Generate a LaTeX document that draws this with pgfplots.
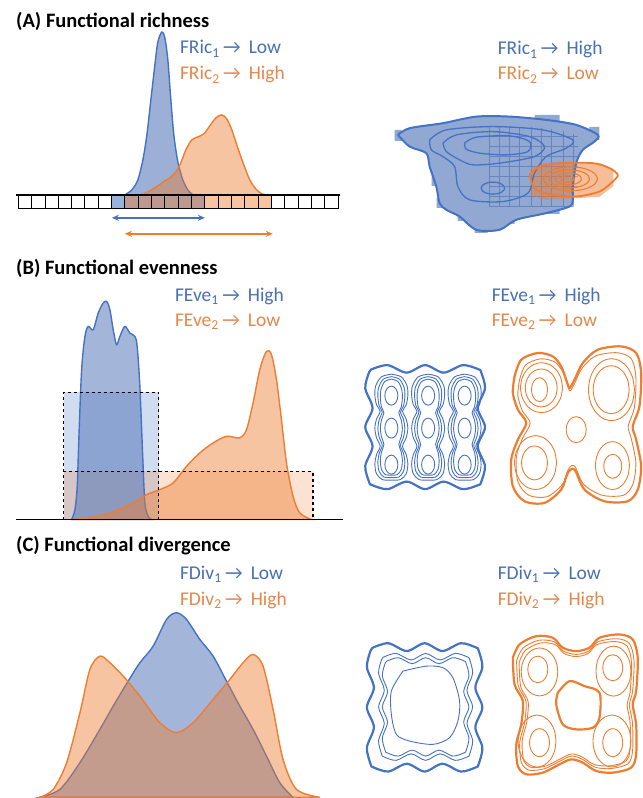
\documentclass[border=0pt]{standalone}
\usepackage{pgfplots}
\pgfplotsset{compat=1.18}
\usepackage{pgfplotstable}
\usepackage{fontspec}
\setmainfont{Carlito}
\usetikzlibrary{arrows.meta}
\definecolor{cb}{RGB}{68,114,196}
\definecolor{cbf}{RGB}{72,110,182}
\definecolor{cbsolid}{RGB}{145,168,211}
\definecolor{co}{RGB}{237,125,49}
\definecolor{cbt}{RGB}{72,112,180}
\definecolor{cot}{RGB}{228,135,75}

% unit circle
\pgfplotstableread{
x y
1 0
0.924 0.383
0.707 0.707
0.383 0.924
0 1
-0.383 0.924
-0.707 0.707
-0.924 0.383
-1 0
-0.924 -0.383
-0.707 -0.707
-0.383 -0.924
0 -1
0.383 -0.924
0.707 -0.707
0.924 -0.383
1 0
}\circtab

% wavy square (unit)
\pgfplotstableread{
x y
-0.95 -1.0
-0.67 -1.07
-0.33 -0.94
0 -1.07
0.33 -0.94
0.67 -1.07
0.95 -1.0
1.0 -0.95
1.07 -0.67
0.94 -0.33
1.07 0
0.94 0.33
1.07 0.67
1.0 0.95
0.95 1.0
0.67 1.07
0.33 0.94
0 1.07
-0.33 0.94
-0.67 1.07
-0.95 1.0
-1.0 0.95
-1.07 0.67
-0.94 0.33
-1.07 0
-0.94 -0.33
-1.07 -0.67
-1.0 -0.95
-0.95 -1.0
}\wsqtab

% three-lobed chain (unit)
\pgfplotstableread{
x y
0 -1
0.6 -0.95
0.95 -0.78
1 -0.6
0.9 -0.42
0.68 -0.3
0.9 -0.15
1 0.02
0.9 0.2
0.68 0.36
0.9 0.52
1 0.7
0.9 0.88
0.55 0.99
0 1
-0.55 0.99
-0.9 0.88
-1 0.7
-0.9 0.52
-0.68 0.36
-0.9 0.2
-1 0.02
-0.9 -0.15
-0.68 -0.3
-0.9 -0.42
-1 -0.6
-0.95 -0.78
-0.6 -0.95
0 -1
}\chaintab

% panel A strip cell borders
\pgfplotstableread{
x y
18.33 195
18.33 209
18.33 nan
31.67 195
31.67 209
31.67 nan
45.00 195
45.00 209
45.00 nan
58.33 195
58.33 209
58.33 nan
71.67 195
71.67 209
71.67 nan
85.00 195
85.00 209
85.00 nan
98.33 195
98.33 209
98.33 nan
111.67 195
111.67 209
111.67 nan
125.00 195
125.00 209
125.00 nan
138.33 195
138.33 209
138.33 nan
151.67 195
151.67 209
151.67 nan
165.00 195
165.00 209
165.00 nan
178.33 195
178.33 209
178.33 nan
191.67 195
191.67 209
191.67 nan
205.00 195
205.00 209
205.00 nan
218.33 195
218.33 209
218.33 nan
231.67 195
231.67 209
231.67 nan
245.00 195
245.00 209
245.00 nan
258.33 195
258.33 209
258.33 nan
271.67 195
271.67 209
271.67 nan
285.00 195
285.00 209
285.00 nan
298.33 195
298.33 209
298.33 nan
311.67 195
311.67 209
311.67 nan
325.00 195
325.00 209
325.00 nan
338.33 195
338.33 209
}\gridA

% panel A right: faint trait grid
\pgfplotstableread{
x y
490 128
490 207
490 nan
500 126
500 207
500 nan
510 126
510 207
510 nan
520 127
520 207
520 nan
531.7 127
531.7 207
531.7 nan
541.7 128
541.7 207
541.7 nan
551.7 129
551.7 207
551.7 nan
563.3 131
563.3 207
563.3 nan
573.3 134
573.3 207
573.3 nan
490 136.7
578 136.7
578 nan
490 146.7
578 146.7
578 nan
490 156.7
578 156.7
578 nan
490 166.7
578 166.7
578 nan
490 176.7
578 176.7
578 nan
490 186.7
578 186.7
578 nan
490 196.7
578 196.7
578 nan
490 206.7
573 206.7
}\gridB

% panel A right: pixel squares along the edge of the blue region
\pgfplotstableread{
x y
395 130
395 141
402 141
402 130
395 130
395 nan
430 150
430 160
437 160
437 150
430 150
430 nan
432 175
432 186
440 186
440 175
432 175
432 nan
437 198
437 208
445 208
445 198
437 198
437 nan
458 212
458 221
466 221
466 212
458 212
458 nan
475 224
475 233
488 233
488 224
475 224
475 nan
505 215
505 224
515 224
515 215
505 215
505 nan
548 205
548 214
560 214
560 205
548 205
548 nan
590 127
590 140
600 140
600 127
590 127
590 nan
535 115
535 121
560 121
560 115
535 115
}\pixA

% panel B orange outer contour
\pgfplotstableread{
x y
515 376.7
521.7 360
538.3 353.3
553.3 356.7
561.7 366.7
566.7 380
570 388.3
575 380
583.3 363.3
598.3 350
621.7 346.7
636.7 353.3
641.7 373.3
640 406.7
633.3 426.7
636.7 440
641.7 466.7
638.3 490
628.3 501.7
605 501.7
585 490
575 470
568.3 473.3
561.7 490
545 503.3
525 501.7
513.3 486.7
511.7 460
518.3 440
526.7 423.3
518.3 410
513.3 393.3
515 376.7
}\orB

% panel C orange outer contour
\pgfplotstableread{
x y
513.3 658.3
520 645
536.7 636.7
553.3 638.3
563.3 648.3
576.7 651.7
590 648.3
600 638.3
620 635
633.3 640
638.3 658.3
636.7 691.7
633.3 705
636.7 725
636.7 755
631.7 768.3
613.3 773.3
596.7 771.7
583.3 763.3
571.7 760
560 765
543.3 773.3
526.7 775
518.3 766.7
516.7 745
521.7 725
523.3 701.7
515 685
513.3 658.3
}\orC

% panel C blue innermost contour
\pgfplotstableread{
x y
403.3 671.7
426.7 666.7
443.3 668.3
453.3 678.3
460 701.7
458.3 721.7
450 738.3
433.3 745
410 741.7
396.7 735
391.7 715
391.7 691.7
403.3 671.7
}\blC

\newcommand{\shp}[6]{\addplot[#1] table[x expr={#3+#5*\thisrow{x}}, y expr={#4+#6*\thisrow{y}}] {#2};}
\newcommand{\shq}[5]{\addplot[#1] table[x expr={#3+#5*(\thisrow{x}-#3)}, y expr={#4+#5*(\thisrow{y}-#4)}] {#2};}
\newcommand{\ttl}[3]{\node[anchor=base west, inner sep=0, font=\fontsize{20.5bp}{24bp}\selectfont\bfseries] at (axis cs:#1,#2) {#3};}
\newcommand{\lab}[6]{\node[anchor=base west, inner sep=0, text=#6, font=\fontsize{19.5bp}{23bp}\selectfont] at (axis cs:#1,#2) {#3\textsubscript{#4}\hspace{3.5bp}→\hspace{8bp}#5};}

\begin{document}
\begin{tikzpicture}
\begin{axis}[width=643bp, height=798bp, scale only axis,
  xmin=0, xmax=643, ymin=0, ymax=798, y dir=reverse,
  axis lines=none, clip=false, unbounded coords=jump]

% invisible frame so that the page is the full 643 x 798 area
\addplot[draw=none, forget plot] coordinates {(0,0)(643,0)(643,798)(0,798)};

% ================= Panel A =================
\ttl{16}{28}{(A) Functional richness}
\lab{180}{54}{FRic}{1}{Low}{cbt}
\lab{180}{80}{FRic}{2}{High}{cot}
\lab{498}{55}{FRic}{1}{High}{cbt}
\lab{498}{80}{FRic}{2}{Low}{cot}

% cells
\addplot[fill=cb, fill opacity=0.55, draw=none] coordinates {(111.67,195)(205,195)(205,209)(111.67,209)} -- cycle;
\addplot[fill=co, fill opacity=0.45, draw=none] coordinates {(125,195)(271.67,195)(271.67,209)(125,209)} -- cycle;
% densities
\addplot[smooth, draw=cb, line width=1.4bp, fill=cbf, fill opacity=0.55] coordinates {
(125,195)(132,190)(138,180)(143,160)(147,135)(151,100)(155,65)(158,42)(162,32)(165,38)(168,60)(171,100)(174,135)(178,162)(183,180)(188,190)(193,195)} -- cycle;
\addplot[smooth, draw=co, line width=1.4bp, fill=co, fill opacity=0.45] coordinates {
(142,195)(150,191)(158,186)(165,181)(170,178)(176,172)(181,163)(186,150)(192,140)(198,137)(204,134)(210,126)(216,118)(222,115)(227,119)(232,130)(238,148)(244,165)(250,180)(256,189)(262,194)(267,195)} -- cycle;
\addplot[black, line width=0.9bp] table {\gridA};
\addplot[black, line width=0.9bp] coordinates {(18.33,209)(338.33,209)};
\addplot[black, line width=1.6bp] coordinates {(16,195)(340,195)};
% range arrows
\addplot[cb, line width=1.5bp, {Stealth[length=7bp,width=6bp]}-{Stealth[length=7bp,width=6bp]}] coordinates {(112,218)(205,218)};
\addplot[co, line width=1.5bp, {Stealth[length=7bp,width=6bp]}-{Stealth[length=7bp,width=6bp]}] coordinates {(125,234)(273,234)};

% right: 2D
\addplot[fill=cbsolid, draw=none] table {\pixA};
\addplot[smooth, fill=cbsolid, draw=none] coordinates {
(398.3,135)(410,128.3)(443.3,123.3)(476.7,116.7)(510,116.7)(546.7,120)(576.7,125)(598.3,135)(595,141.7)(583.3,150)(576.7,163.3)(573.3,186.7)(573.3,200)(570,206.7)(546.7,213.3)(516.7,220)(500,230)(476.7,230)(460,216.7)(446.7,210)(440,203.3)(436.7,186.7)(430,166.7)(426.7,153.3)(410,146.7)(398.3,135)};
\addplot[cb!80!black, line width=0.5bp, opacity=0.45] table {\gridB};
\addplot[fill=co, fill opacity=0.5, draw=none] coordinates {(531,168)(545,163)(600,163)(614,169)(614,186)(600,197)(545,200)(531,195)} -- cycle;
\addplot[smooth, draw=cb, line width=2bp] coordinates {
(398.3,135)(410,128.3)(443.3,123.3)(476.7,116.7)(510,116.7)(546.7,120)(576.7,125)(598.3,135)(595,141.7)(583.3,150)(576.7,163.3)(573.3,186.7)(573.3,200)(570,206.7)(546.7,213.3)(516.7,220)(500,230)(476.7,230)(460,216.7)(446.7,210)(440,203.3)(436.7,186.7)(430,166.7)(426.7,153.3)(410,146.7)(398.3,135)};
\addplot[smooth, draw=cb, line width=1.3bp] coordinates {
(430,140)(446.7,130)(493.3,126.7)(543.3,130)(573.3,140)(566.7,148.3)(546.7,156.7)(535,173.3)(528.3,193.3)(503.3,201.7)(470,200)(458.3,186.7)(455,166.7)(443.3,156.7)(431.7,150)(430,140)};
\addplot[smooth, draw=cb, line width=1.3bp] coordinates {
(443.3,143.3)(456.7,135)(493.3,131.7)(530,136.7)(545,146.7)(535,156.7)(500,163.3)(473.3,165)(460,160)(446.7,151.7)(443.3,143.3)};
\addplot[smooth, draw=cb, line width=1.3bp] coordinates {
(465,143.3)(476.7,137.3)(510,136)(530,141.7)(528.3,151.7)(506.7,155)(480,153.3)(466.7,149.3)(465,143.3)};
\shp{smooth, draw=cb, line width=1.3bp}{\circtab}{493.3}{188.3}{11.7}{6}
% orange contours
\addplot[smooth, draw=co, line width=1.8bp] coordinates {
(530,175)(540,166.7)(560,163.3)(593.3,163.3)(610,168.3)(618.3,175)(613.3,181.7)(600,191.7)(576.7,196.7)(553.3,195)(536.7,190)(531.7,181.7)(530,175)};
\shp{smooth, draw=co, line width=1.1bp}{\circtab}{571}{179}{27}{12}
\shp{smooth, draw=co, line width=1.1bp}{\circtab}{570}{179}{20}{9}
\shp{smooth, draw=co, line width=1.1bp}{\circtab}{569}{179}{13}{6}
\shp{smooth, draw=co, line width=1.1bp}{\circtab}{568}{179}{6.5}{3.5}

% ================= Panel B =================
\ttl{16}{275}{(B) Functional evenness}
\lab{175}{301.7}{FEve}{1}{High}{cbt}
\lab{175}{326.7}{FEve}{2}{Low}{cot}
\lab{492}{301.7}{FEve}{1}{High}{cbt}
\lab{492}{326.7}{FEve}{2}{Low}{cot}

\addplot[fill=cb, fill opacity=0.25, draw=none] coordinates {(64,520)(64,392.7)(159,392.7)(159,520)} -- cycle;
\addplot[fill=co, fill opacity=0.22, draw=none] coordinates {(64,520)(64,471.7)(313.3,471.7)(313.3,520)} -- cycle;
\addplot[smooth, draw=cb, line width=1.4bp, fill=cbf, fill opacity=0.5] coordinates {
(71.7,520)(75,510)(77.3,486.7)(79,436.7)(81.7,370)(85,336.7)(88.3,326.7)(93.3,330)(98.3,313.3)(103.3,303.3)(106.7,301.7)(110,310)(113.3,330)(116.7,345)(120,336.7)(125,326.7)(130,333.3)(135,336.7)(137.3,346.7)(140,386.7)(142.7,453.3)(145,503.3)(148.3,516.7)(151.7,520)} -- cycle;
\addplot[smooth, draw=co, line width=1.4bp, fill=co, fill opacity=0.45] coordinates {
(71.7,520)(86.7,518.3)(110,513.3)(133.3,503.3)(146.7,495)(160,490)(173.3,483.3)(186.7,466.7)(200,453.3)(213.3,443.3)(226.7,436.7)(240,438.3)(246.7,430)(253.3,403.3)(260,370)(266.7,351.7)(271.7,355)(276.7,380)(281.7,420)(286.7,463.3)(293.3,496.7)(300,513.3)(311.7,520)} -- cycle;
\addplot[black, dashed, line width=1.1bp] coordinates {(64,520)(64,392.7)(159,392.7)(159,520)};
\addplot[black, dashed, line width=1.1bp] coordinates {(64,520)(64,471.7)(313.3,471.7)(313.3,520)};
\addplot[black, line width=1.6bp] coordinates {(16,520)(343,520)};

% blue chains
\shp{smooth, draw=cb, line width=2.2bp}{\wsqtab}{425.5}{427.5}{56}{58}
\shp{smooth, draw=cb, line width=0.9bp}{\chaintab}{391.7}{427.5}{16.5}{53}
\shp{smooth, draw=cb, line width=0.9bp}{\chaintab}{391.7}{427.5}{13.5}{50.5}
\shp{smooth, draw=cb, line width=0.9bp}{\chaintab}{391.7}{427.5}{11}{48}
\shp{smooth, draw=cb, line width=0.9bp}{\chaintab}{428.5}{427.5}{16.5}{53}
\shp{smooth, draw=cb, line width=0.9bp}{\chaintab}{428.5}{427.5}{13.5}{50.5}
\shp{smooth, draw=cb, line width=0.9bp}{\chaintab}{428.5}{427.5}{11}{48}
\shp{smooth, draw=cb, line width=0.9bp}{\chaintab}{465}{427.5}{16.5}{53}
\shp{smooth, draw=cb, line width=0.9bp}{\chaintab}{465}{427.5}{13.5}{50.5}
\shp{smooth, draw=cb, line width=0.9bp}{\chaintab}{465}{427.5}{11}{48}
\shp{smooth, draw=cb, line width=0.9bp}{\circtab}{391.7}{396}{6.5}{9.5}
\shp{smooth, draw=cb, line width=0.9bp}{\circtab}{391.7}{428.5}{6.5}{10}
\shp{smooth, draw=cb, line width=0.9bp}{\circtab}{391.7}{465}{6.5}{9.5}
\shp{smooth, draw=cb, line width=0.9bp}{\circtab}{428.5}{396}{6.5}{9.5}
\shp{smooth, draw=cb, line width=0.9bp}{\circtab}{428.5}{428.5}{6.5}{10}
\shp{smooth, draw=cb, line width=0.9bp}{\circtab}{428.5}{465}{6.5}{9.5}
\shp{smooth, draw=cb, line width=0.9bp}{\circtab}{465}{396}{6.5}{9.5}
\shp{smooth, draw=cb, line width=0.9bp}{\circtab}{465}{428.5}{6.5}{10}
\shp{smooth, draw=cb, line width=0.9bp}{\circtab}{465}{465}{6.5}{9.5}

% orange four-lobed
\shq{smooth, draw=co, line width=2.2bp}{\orB}{576}{426}{1}
\shq{smooth, draw=co, line width=0.9bp}{\orB}{576}{426}{0.92}
\shp{smooth, draw=co, line width=0.9bp}{\circtab}{540}{390}{8}{12}
\shp{smooth, draw=co, line width=0.9bp}{\circtab}{541.7}{388.3}{16}{19}
\shp{smooth, draw=co, line width=0.9bp}{\circtab}{542}{388}{21}{25}
\shp{smooth, draw=co, line width=0.9bp}{\circtab}{611.7}{390}{18}{24}
\shp{smooth, draw=co, line width=0.9bp}{\circtab}{612}{390}{23}{31}
\shp{smooth, draw=co, line width=0.9bp}{\circtab}{535}{463.3}{13}{17}
\shp{smooth, draw=co, line width=0.9bp}{\circtab}{536}{463}{21}{27}
\shp{smooth, draw=co, line width=0.9bp}{\circtab}{613.3}{466.7}{9}{12}
\shp{smooth, draw=co, line width=0.9bp}{\circtab}{613}{466}{17}{24}
\shp{smooth, draw=co, line width=0.9bp}{\circtab}{576.7}{430}{10}{13}

% ================= Panel C =================
\ttl{16}{551.7}{(C) Functional divergence}
\lab{180}{580}{FDiv}{1}{Low}{cbt}
\lab{180}{606}{FDiv}{2}{High}{cot}
\lab{498}{580}{FDiv}{1}{Low}{cbt}
\lab{498}{606}{FDiv}{2}{High}{cot}

\addplot[smooth, draw=cb, line width=1.4bp, fill=cbf, fill opacity=0.5] coordinates {
(40,798)(60,790)(80,763.3)(100,730)(113.3,706.7)(128.3,681.7)(140,663.3)(153.3,646.7)(166.7,620)(176.7,613.3)(186.7,620)(200,640)(213.3,656.7)(226.7,681.7)(240,706.7)(253.3,730)(266.7,756.7)(280,783.3)(293.3,798)} -- cycle;
\addplot[smooth, draw=co, line width=1.4bp, fill=co, fill opacity=0.45] coordinates {
(40,798)(53.3,790)(66.7,763.3)(80,713.3)(90,670)(100,656.7)(110,663.3)(123.3,676.7)(140,696.7)(160,723.3)(176.7,733.3)(193.3,723.3)(213.3,700)(230,680)(243.3,663.3)(253.3,655)(263.3,666.7)(273.3,710)(283.3,760)(296.7,790)(320,798)} -- cycle;

% blue ring
\shp{smooth, draw=cb, line width=2.2bp}{\wsqtab}{425}{708}{54}{60}
\shp{smooth, draw=cb, line width=0.9bp}{\wsqtab}{426}{707.5}{44}{50}
\shp{smooth, draw=cb, line width=0.9bp}{\wsqtab}{426}{707.5}{40.5}{46}
\addplot[smooth, draw=cb, line width=0.9bp] table {\blC};

% orange
\shq{smooth, draw=co, line width=2.2bp}{\orC}{576}{706}{1}
\shq{smooth, draw=co, line width=0.9bp}{\orC}{576}{706}{0.94}
\shq{smooth, draw=co, line width=0.9bp}{\orC}{576}{706}{0.9}
\addplot[smooth, draw=co, line width=2.2bp] coordinates {
(558.3,693.3)(570,681.7)(585,686.7)(600,693.3)(600,718.3)(593.3,728.3)(576.7,730)(563.3,725)(556.7,705)(558.3,693.3)};
\shp{smooth, draw=co, line width=0.9bp}{\circtab}{538.3}{670}{10}{13.3}
\shp{smooth, draw=co, line width=0.9bp}{\circtab}{540}{672.5}{18.3}{24}
\shp{smooth, draw=co, line width=0.9bp}{\circtab}{613.3}{668.3}{10}{13}
\shp{smooth, draw=co, line width=0.9bp}{\circtab}{614}{671.7}{17.5}{25}
\shp{smooth, draw=co, line width=0.9bp}{\circtab}{540}{743.3}{10}{14}
\shp{smooth, draw=co, line width=0.9bp}{\circtab}{537.5}{741.7}{19}{26}
\shp{smooth, draw=co, line width=0.9bp}{\circtab}{613.3}{743.3}{10}{14}
\shp{smooth, draw=co, line width=0.9bp}{\circtab}{612.5}{741.7}{19}{26}

\end{axis}
\end{tikzpicture}
\end{document}
